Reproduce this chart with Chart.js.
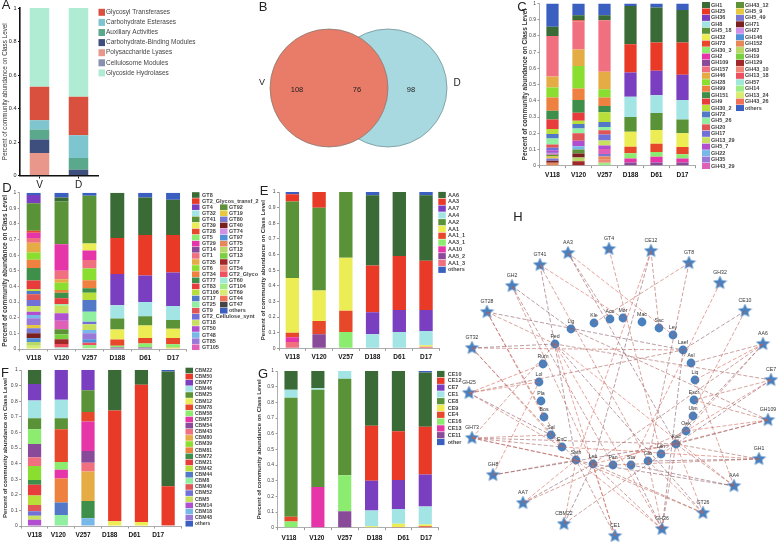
<!DOCTYPE html>
<html><head><meta charset="utf-8">
<style>html,body{margin:0;padding:0;background:#fff;width:778px;height:542px;overflow:hidden}canvas{position:absolute;left:0;top:0}</style>
<script src="https://cdn.jsdelivr.net/npm/chart.js@4/dist/chart.umd.min.js"></script>
</head><body>
<script>
const FONT='"Liberation Sans", Arial, sans-serif';
const Y_TITLE='Percent of community abundance on Class Level';
const samples=['V118','V120','V257','D188','D61','D17'];
const palette=['#3a6a35','#e83a27','#7a3fc0','#a3e4e4','#5a9238','#ecec55','#e8482a','#8cec70','#e535a8','#8a4a9a','#f07080','#e5ab45','#8ade30','#ee8040','#3d8f4a','#e83b3b','#b8de3a','#5478c8','#90f0a0','#e05555','#7070d8','#c8e060','#b050d0','#78b8e8','#9a78d8','#e060b8','#5d9238','#e8c840','#7878d0','#7a2020','#d090e8','#5090d8','#e88858','#b8d868','#78d040','#a02828','#f08878','#ef5060','#a0e8d8','#a0ec88','#d8ec70','#f07058'];
const othersColor='#3a5fc0';

/* Panel A */
const aNames=['Glycosyl Transferases','Carbohydrate Esterases','Auxiliary Activities','Carbohydrate-Binding Modules','Polysaccharide Lyases','Cellulosome Modules','Glycoside Hydrolases'];
const aColors=['#d9513e','#7ec5cf','#5aa98d','#3f4f7d','#e8978a','#8892b0','#b0ecd4'];
const aSamples=['V','D'];
const aV=[.20,.055,.06,.08,.135,0,.47];
const aD=[.23,.135,.07,.035,0,0,.53];

/* Panel B */
const vennCounts=[108,76,98];

/* Panel C */
const cCol1=['GH1','GH25','GH36','GH8','GH5_18','GH32','GH73','GH30_3','GH2','GH109','GH157','GH46','GH28','GH99','GH151','GH9','GH30_2','GH72','GH5_26','GH20','GH17','GH13_29','GH5_7','GH22','GH35','GH43_29'];
const cCol2=['GH43_12','GH5_9','GH5_49','GH71','GH27','GH146','GH152','GH63','GH19','GH129','GH43_10','GH13_18','GH57','GH14','GH13_24','GH43_26','others'];
const cV118={GH152:.018,GH71:.012,GH5_49:.015,GH5_9:.012,GH43_12:.01,GH43_29:.008,GH35:.01,GH5_7:.01,GH17:.015,GH20:.021,GH5_26:.037,GH72:.027,GH30_2:.031,GH9:.059,GH151:.054,GH99:.081,GH28:.0625,GH46:.0675,GH157:.25,GH1:.057,others:.143};
const cV120={GH129:.028,GH63:.022,GH71:.025,GH43_12:.025,GH22:.02,GH5_7:.034,GH20:.046,GH5_26:.03,GH72:.027,GH30_2:.02,GH9:.049,GH151:.079,GH99:.071,GH28:.138,GH46:.103,GH157:.173,GH73:.007,GH1:.031,others:.072};
const cV257={GH14:.018,GH43_10:.018,GH152:.02,GH5_49:.016,GH43_29:.031,GH5_7:.022,GH13_29:.031,GH17:.037,GH20:.025,GH5_26:.02,GH72:.032,GH30_2:.06,GH151:.038,GH99:.053,GH28:.051,GH46:.107,GH157:.318,GH1:.03,others:.073};
const cD188={GH109:.02,GH2:.025,GH30_3:.031,GH73:.041,GH32:.092,GH5_18:.091,GH8:.125,GH36:.15,GH25:.174,GH1:.236,others:.015};
const cD61={GH109:.02,GH2:.035,GH30_3:.03,GH73:.05,GH32:.085,GH5_18:.105,GH8:.11,GH36:.15,GH25:.175,GH1:.215,others:.025};
const cD17={GH109:.02,GH2:.025,GH30_3:.025,GH73:.045,GH32:.085,GH5_18:.085,GH8:.12,GH36:.155,GH25:.2,GH1:.2,others:.04};

/* Panel D */
const dCol1=['GT8','GT2_Glycos_transf_2','GT4','GT32','GT41','GT39','GT28','GT5','GT29','GT14','GT1','GT35','GT6','GT34','GT77','GT83','GT106','GT17','GT25','GT9','GT2_Cellulose_synt','GT18','GT50','GT48','GT85','GT105'];
const dCol2=['GT92','GT19','GT80','GT40','GT74','GT97','GT75','GT12','GT13','GT7','GT54','GT2_Glyco','GT60','GT104','GT69','GT44','GT47','others'];
const dV118={GT69:.02,GT12:.025,GT97:.023,GT40:.032,GT80:.032,GT19:.021,GT85:.043,GT48:.021,GT50:.022,GT18:.036,GT2_Cellulose_synt:.038,GT9:.037,GT17:.021,GT106:.011,GT83:.057,GT77:.079,GT34:.053,GT6:.047,GT35:.062,GT1:.03,GT29:.034,GT28:.013,GT41:.175,GT4:.053,others:.015};
const dV120={GT60:.01,GT2_Glyco:.022,GT7:.03,GT13:.032,GT92:.032,GT105:.055,GT50:.047,GT18:.048,GT25:.01,GT83:.038,GT77:.036,GT34:.017,GT6:.047,GT35:.022,GT1:.054,GT29:.17,GT41:.275,GT8:.025,others:.03};
const dV257={GT47:.005,GT104:.021,GT2_Glyco:.014,GT97:.022,GT85:.038,GT48:.021,GT18:.037,GT2_Cellulose_synt:.017,GT25:.064,GT17:.074,GT106:.047,GT77:.028,GT34:.052,GT6:.075,GT1:.055,GT29:.06,GT39:.045,GT41:.305,others:.02};
const dD188={GT14:.01,GT5:.01,GT28:.04,GT39:.065,GT41:.07,GT32:.085,GT4:.2,GT2_Glycos_transf_2:.23,GT8:.29};
const dD61={GT14:.01,GT5:.025,GT28:.035,GT39:.08,GT41:.06,GT32:.09,GT4:.17,GT2_Glycos_transf_2:.26,GT8:.24,others:.03};
const dD17={GT19:.01,GT5:.02,GT28:.04,GT39:.06,GT41:.055,GT32:.09,GT4:.215,GT2_Glycos_transf_2:.24,GT8:.225,others:.045};

/* Panel E */
const eNames=['AA6','AA3','AA7','AA4','AA2','AA1','AA1_1','AA3_1','AA10','AA5_2','AA1_3','others'];
const eV118={AA1_3:.04,AA10:.03,AA1_1:.03,AA1:.35,AA2:.49,AA3:.045,others:.015};
const eV120={AA5_2:.09,AA1_1:.085,AA1:.195,AA2:.53,AA3:.10};
const eV257={AA3_1:.105,AA1_1:.135,AA1:.34,AA2:.42};
const eD188={AA4:.09,AA7:.14,AA3:.30,AA6:.45,others:.02};
const eD61={AA4:.105,AA7:.14,AA3:.345,AA6:.41};
const eD17={AA1_3:.01,AA1:.01,AA4:.09,AA7:.135,AA3:.315,AA6:.42,others:.02};

/* Panel F */
const fNames=['CBM22','CBM50','CBM77','CBM46','CBM25','CBM12','CBM78','CBM58','CBM57','CBM54','CBM43','CBM80','CBM39','CBM81','CBM72','CBM21','CBM42','CBM44','CBM8','CBM40','CBM52','CBM5','CBM14','CBM18','CBM48','others'];
const fV118={CBM14:.04,CBM5:.025,CBM52:.03,CBM40:.04,CBM42:.06,CBM21:.07,CBM72:.03,CBM39:.09,CBM43:.055,CBM54:.085,CBM58:.095,CBM25:.07,CBM46:.115,CBM77:.105,CBM22:.09};
const fV120={CBM8:.07,CBM44:.08,CBM81:.155,CBM57:.055,CBM58:.05,CBM78:.21,CBM25:.07,CBM46:.12,CBM77:.19};
const fV257={CBM18:.05,CBM72:.11,CBM80:.19,CBM43:.055,CBM54:.075,CBM57:.19,CBM78:.06,CBM25:.14,CBM77:.13};
const fD188={CBM12:.03,CBM50:.71,CBM22:.26};
const fD61={CBM12:.025,CBM50:.88,CBM22:.095};
const fD17={CBM78:.005,CBM50:.25,CBM22:.735,others:.01};

/* Panel G */
const gNames=['CE10','CE12','CE7','CE1','CE8','CE9','CE4','CE16','CE13','CE11','other'];
const gV118={CE16:.04,CE4:.03,CE8:.76,CE1:.05,CE10:.12};
const gV120={CE13:.26,CE8:.62,CE1:.01,CE10:.11};
const gV257={CE11:.105,CE16:.23,CE8:.615,CE1:.05};
const gD188={CE9:.01,CE1:.10,CE7:.19,CE12:.35,CE10:.35};
const gD61={CE4:.005,CE9:.02,CE1:.095,CE7:.185,CE12:.31,CE10:.385};
const gD17={CE4:.01,CE9:.01,CE1:.115,CE7:.205,CE12:.305,CE10:.345,other:.01};

/* Panel H: network layout, in layout units */
const hubs={AA3:[568,253],GT4:[609,249],CE12:[651,251],GT8:[689,263],GH32:[720,283],CE10:[745,311],AA6:[763,344],CE7:[771,380],GH109:[768,420],GH1:[759,459],AA4:[734,486],GT26:[703,513],GH36:[662,529],CE1:[615,536],CBM22:[564,524],AA7:[523,503],GH8:[493,475],GH73:[472,438],GH25:[469,393],GT32:[472,348],GT28:[487,312],GH2:[512,286],GT41:[540,265]};
const taxa={Lig:[571,329],Kle:[594,323],Aco:[610,319],Mor:[623,318],Mac:[642,322],Sac:[659,328],Ley:[673,335],Laef:[683,350],Asl:[691,363],Liq:[695,380],Escr:[694,400],Ulm:[693,416],Oek:[686,431],Kac:[676,444],Lith:[661,454],Glo:[648,461],Sta:[631,465],Pan:[613,465],Leu:[593,464],Sath:[576,460],EnC:[562,447],Sal:[551,435],Bos:[544,417],Pla:[541,401],Lol:[539,382],Rum:[543,364],Ped:[555,344]};
const links={AA3:['Aco','Ley','Kac'],GT4:['Lith'],CE12:['Sac','Sath','Leu'],GT8:['Kle','Glo'],GH32:['Sta'],CE10:['Laef','Kac'],AA6:['Asl','Liq','Lith','Oek','Leu'],CE7:['Oek','Kac','Escr','Ped'],GH109:['Oek','Kac','Escr','Lig','Leu'],GH1:['Glo','Pan','Kac','EnC'],AA4:['Leu','Liq','Kac','Ped','Sta'],GT26:['Sath','Leu','Kac','Ped','Glo'],GH36:['Leu','Sath','Sta','Glo','Kac','Ped','Laef'],CE1:['Leu','Sath','Ped'],CBM22:['Leu','Sath','Kac'],AA7:['Sath','Leu','Oek'],GH8:['Sath','Lol','Kac'],GH73:['Sal','EnC','Sath','Leu','Ped','Kac'],GH25:['Lol','Sal','EnC','Laef','Rum'],GT32:['Ped','Laef','Sath','EnC'],GT28:['Laef','Ped','EnC','Bos'],GH2:['Lig','Leu','Pan'],GT41:['Mor','Sath','Glo']};
const linkColors=['#a8625e','#d8665a','#8a5a66','#c0685c'];

Chart.defaults.animation=false;
Chart.defaults.font.family=FONT;
Chart.defaults.plugins.legend.display=false;
Chart.defaults.plugins.tooltip.enabled=false;

const pageText={id:'pageText',afterDraw(c,_,o){(o.items||[]).forEach(t=>{const x=c.ctx;x.save();x.font=t.font;x.fillStyle=t.color||'#222';x.textAlign='center';x.textBaseline='middle';x.fillText(t.text,t.x,t.y);x.restore();});}};
const sideLegend={id:'sideLegend',afterDraw(c,_,o){
  if(!o.cols)return;const x=c.ctx;x.save();x.font=o.font;x.fillStyle=o.color||'#333';x.textBaseline='middle';
  const col=Object.fromEntries(c.data.datasets.map(d=>[d.label,d.backgroundColor]));
  o.cols.forEach(k=>k.names.forEach((n,i)=>{const cy=o.y0+(k.start+i)*o.dy;x.fillStyle=col[n];x.fillRect(k.x,cy-o.h/2,o.w,o.h);x.fillStyle=o.color||'#333';x.fillText(n,k.tx,cy);}));
  x.restore();}};
const labelShift={id:'labelShift',beforeDraw(c,_,o){
  if(!o.shift||c.$shifted)return;c.$shifted=true;
  c.scales.x.getLabelItems(c.chartArea).forEach((it,i)=>{const t=it.options?it.options.translation:it.translation;t[0]+=o.shift[i]||0;});}};
Chart.register(pageText,sideLegend,labelShift);

function canvas(){const c=document.createElement('canvas');c.width=778;c.height=542;c.style.width='778px';c.style.height='542px';document.body.appendChild(c);return c;}

const X_AXIS_H=16;
function panel(p){
  const legendOrder=p.names;
  const order=legendOrder.slice(0,-1).reverse().concat(legendOrder.slice(-1));
  const datasets=order.map(n=>{const i=legendOrder.indexOf(n);return{
    label:n,
    data:p.columns.map(col=>Array.isArray(col)?col[i]:(col[n]||0)),
    backgroundColor:p.colors?p.colors[i]:((n==='others'||n==='other')?othersColor:palette[i]),
    borderWidth:0,barPercentage:p.bar,categoryPercentage:1,stack:'s'};});
  const W=p.left-p.titleX+p.titleSize*.6;
  new Chart(canvas(),{type:'bar',data:{labels:p.labels||samples,datasets},options:{
    responsive:false,devicePixelRatio:1,
    layout:{autoPadding:false,padding:{left:p.left-W,right:778-p.right,top:p.top,bottom:542-p.bottom-X_AXIS_H}},
    scales:{
      x:{stacked:true,border:{color:p.axis,width:p.axisW},grid:{drawOnChartArea:false,color:p.axis,tickLength:p.xTick??2.5,offset:p.xOffset??true},
        ticks:{autoSkip:false,maxRotation:0,minRotation:0,padding:p.xPad,color:p.xColor||'#111',font:{size:p.xSize,weight:p.xWeight||'bold'}},
        afterFit(s){s.height=X_AXIS_H;s.paddingLeft=0;s.paddingRight=0;}},
      y:{stacked:true,min:0,max:1,border:{color:p.axis,width:p.axisW},grid:{drawOnChartArea:false,color:p.axis,tickLength:2},
        ticks:{stepSize:p.step||.1,padding:1.5,color:p.yColor||'#444',font:{size:p.ySize||5,weight:p.yWeight||'normal'},callback:v=>String(+v.toFixed(1))},
        title:{display:true,text:Y_TITLE,padding:0,color:'#333',font:{size:p.titleSize,weight:p.titleWeight||'bold'}},
        afterFit(s){s.width=W;s.paddingTop=0;s.paddingBottom=0;}}
    },
    plugins:{sideLegend:p.legend,labelShift:{shift:p.shift}}
  }});
}

panel({names:aNames,colors:aColors,labels:aSamples,columns:[aV,aD],left:20,right:98,top:8,bottom:175.5,bar:.5,axis:'#111',axisW:1.6,
  titleX:5,titleSize:6.3,titleWeight:'normal',xSize:10,xWeight:'normal',xPad:1,xColor:'#222',step:.2,ySize:5.5,yColor:'#222',xOffset:false,xTick:3,
  legend:{font:'6.5px '+FONT,color:'#444',y0:12.3,dy:10.1,w:6.5,h:7,cols:[{x:98.5,tx:106,start:0,names:aNames}]}});

panel({names:cCol1.concat(cCol2),columns:[cV118,cV120,cV257,cD188,cD61,cD17],left:539.5,right:695.5,top:3.5,bottom:165.7,bar:.47,axis:'#999',axisW:.8,
  titleX:525,titleSize:6.5,xSize:6.5,xPad:3.5,
  legend:{font:'bold 5.5px '+FONT,color:'#444',y0:5,dy:6.44,w:8,h:6,cols:[{x:702,tx:711,start:0,names:cCol1},{x:736,tx:745,start:0,names:cCol2}]}});

panel({names:dCol1.concat(dCol2),columns:[dV118,dV120,dV257,dD188,dD61,dD17],left:19.7,right:187,top:192.7,bottom:349,bar:.5,axis:'#999',axisW:.8,
  titleX:5,titleSize:6.5,xSize:6.5,xPad:3,
  legend:{font:'bold 5.5px '+FONT,color:'#444',y0:195,dy:6.09,w:7.5,h:5.6,cols:[{x:192,tx:202,start:0,names:dCol1},{x:220,tx:229,start:2,names:dCol2}]}});

panel({names:eNames,columns:[eV118,eV120,eV257,eD188,eD61,eD17],left:279,right:439.4,top:192,bottom:348.3,bar:.5,axis:'#999',axisW:.8,
  titleX:263,titleSize:6,xSize:6.5,xPad:3,
  legend:{font:'bold 5.5px '+FONT,color:'#444',y0:195,dy:6.8,w:7.5,h:6.2,cols:[{x:438.3,tx:448,start:0,names:eNames}]}});

panel({names:fNames,columns:[fV118,fV120,fV257,fD188,fD61,fD17],left:21.2,right:181.5,top:370,bottom:526,bar:.495,axis:'#999',axisW:.8,
  titleX:5,titleSize:6,xSize:6.5,xPad:2.5,shift:[0,-3,-5,-5,-7,-10],
  legend:{font:'bold 5px '+FONT,color:'#444',y0:370.5,dy:6.13,w:7.5,h:5.6,cols:[{x:185.5,tx:195,start:0,names:fNames}]}});

panel({names:gNames,columns:[gV118,gV120,gV257,gD188,gD61,gD17],left:277.6,right:438.7,top:371,bottom:527.7,bar:.49,axis:'#999',axisW:.8,
  titleX:259,titleSize:6,xSize:6.5,xPad:4,shift:[-2,-1,0,3,5,1],
  legend:{font:'bold 5.5px '+FONT,color:'#444',y0:374,dy:6.8,w:7.5,h:6.2,cols:[{x:437,tx:447.7,start:0,names:gNames}]}});

/* Venn + panel letters */
const letters=[['A',6,5],['B',263,7],['C',522,7],['D',7,188],['E',264,191],['F',5,373],['G',263,374],['H',518,217]];
new Chart(canvas(),{type:'bubble',data:{datasets:[
  {data:[{x:329,y:88,r:59}],backgroundColor:'#e87c68',borderColor:'#7a7a72',borderWidth:.7},
  {data:[{x:388,y:88,r:59}],backgroundColor:'rgba(121,195,208,.65)',borderColor:'#6a8a8e',borderWidth:.7}]},
  options:{responsive:false,devicePixelRatio:1,layout:{padding:0,autoPadding:false},
    scales:{x:{display:false,min:0,max:778},y:{display:false,min:0,max:542,reverse:true}},
    plugins:{pageText:{items:[
      {text:String(vennCounts[0]),x:297,y:90,font:'7.5px '+FONT},
      {text:String(vennCounts[1]),x:357,y:89.5,font:'7.5px '+FONT},
      {text:String(vennCounts[2]),x:411,y:89.5,font:'7.5px '+FONT},
      {text:'V',x:262,y:83,font:'9px '+FONT},
      {text:'D',x:457,y:83,font:'10px '+FONT}
    ].concat(letters.map(l=>({text:l[0],x:l[1],y:l[2],font:'13px '+FONT})))}}}});

/* Network */
function starImage(R){const c=document.createElement('canvas');c.width=c.height=2*R;const x=c.getContext('2d');x.fillStyle='#4a80bd';x.beginPath();
  for(let i=0;i<10;i++){const r=i%2?R*.45:R,a=-Math.PI/2+i*Math.PI/5;x[i?'lineTo':'moveTo'](R+r*Math.cos(a),R+r*Math.sin(a));}x.closePath();x.fill();return c;}
const pt=(m,n)=>({x:m[n][0],y:m[n][1],name:n});
const edgeSets=[];let ei=0;
Object.keys(links).forEach(h=>links[h].forEach(t=>{edgeSets.push({type:'scatter',showLine:true,data:[pt(hubs,h),pt(taxa,t)],borderColor:linkColors[ei++%linkColors.length],borderWidth:.6,borderDash:[4,2],pointRadius:0,fill:false});}));
const nodeLabels={id:'nodeLabels',afterDatasetsDraw(c){const x=c.ctx;x.save();x.font='5.2px '+FONT;x.fillStyle='#333';x.textAlign='center';x.textBaseline='middle';
  c.data.datasets.forEach((d,i)=>{if(!d.nodeLabelGap)return;c.getDatasetMeta(i).data.forEach((e,j)=>x.fillText(d.data[j].name,e.x,e.y-d.nodeLabelGap));});x.restore();}};
new Chart(canvas(),{type:'scatter',data:{datasets:edgeSets.concat([
  {data:Object.keys(taxa).map(n=>pt(taxa,n)),pointStyle:'circle',pointRadius:4.4,backgroundColor:'#4a80bd',borderWidth:0,nodeLabelGap:7.5},
  {data:Object.keys(hubs).map(n=>pt(hubs,n)),pointStyle:starImage(7.5),pointRadius:7.5,backgroundColor:'#4a80bd',borderWidth:0,nodeLabelGap:10}
])},plugins:[nodeLabels],options:{responsive:false,devicePixelRatio:1,layout:{padding:0,autoPadding:false},
  scales:{x:{display:false,min:0,max:778},y:{display:false,min:0,max:542,reverse:true}}}});
</script>
</body></html>
